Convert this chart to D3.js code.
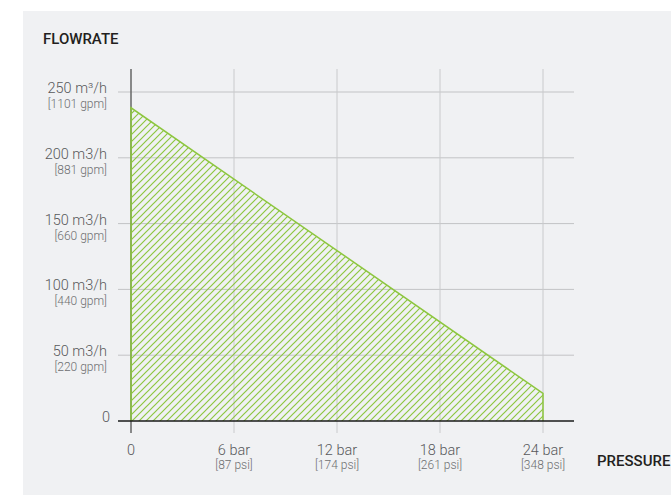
<!DOCTYPE html>
<html lang="en">
<head>
<meta charset="UTF-8">
<title>Flowrate vs pressure</title>
<style>
html,body{margin:0; width:100vw; height:100vh; overflow:hidden; background:#fff; font-family:Roboto, Arial, sans-serif;}
svg{width:100%; height:100%; display:block;}
</style>
</head>
<body>
<svg></svg>
<script src="https://d3js.org/d3.v7.min.js"></script>
<script>
// chart values
const pressureTicks = [0, 6, 12, 18, 24];
const pressureLabels = ["0", "6 bar", "12 bar", "18 bar", "24 bar"];
const psiLabels = ["", "[87 psi]", "[174 psi]", "[261 psi]", "[348 psi]"];
const flowTicks = [0, 50, 100, 150, 200, 250];
const flowLabels = ["0", "50 m3/h", "100 m3/h", "150 m3/h", "200 m3/h", "250 m³/h"];
const gpmLabels = ["", "[220 gpm]", "[440 gpm]", "[660 gpm]", "[881 gpm]", "[1101 gpm]"];
const curvePressure = [0, 24];
const curveFlow = [238, 21];

const svg = d3.select("svg");
const GREEN = "#8dc63f";

svg.append("rect").attr("x",23).attr("y",11).attr("width",660).attr("height",484).attr("fill","#f0f1f3");

const x = d3.scaleLinear().domain([0,24]).range([131,543]);
const y = d3.scaleLinear().domain([0,250]).range([421,92]);

const defs = svg.append("defs");
defs.append("pattern").attr("id","hatch").attr("patternUnits","userSpaceOnUse")
  .attr("width",7).attr("height",7)
  .append("path").attr("d","M-1,1 l2,-2 M0,7 l7,-7 M6,8 l2,-2")
  .attr("stroke",GREEN).attr("stroke-width",1.2);

// grid
svg.append("g").selectAll("line").data(flowTicks.filter(d=>d>0)).join("line")
  .attr("x1",118).attr("x2",574).attr("y1",d=>y(d)).attr("y2",d=>y(d))
  .attr("stroke","#c2c3c5").attr("stroke-width",1);
svg.append("g").selectAll("line").data(pressureTicks.filter(d=>d>0)).join("line")
  .attr("x1",d=>x(d)).attr("x2",d=>x(d)).attr("y1",69).attr("y2",433)
  .attr("stroke","#c9cacc").attr("stroke-width",1);

// y axis line
svg.append("line").attr("x1",x(0)).attr("x2",x(0)).attr("y1",69).attr("y2",433)
  .attr("stroke","#666").attr("stroke-width",1.5);

// hatched area
const pts = curvePressure.map((p,i)=>[p,curveFlow[i]]);
const area = d3.area().x(d=>x(d[0])).y0(y(0)).y1(d=>y(d[1]));
svg.append("path").datum(pts).attr("d",area).attr("fill","url(#hatch)");
const outline = [[curvePressure[0],0], ...pts, [curvePressure[curvePressure.length-1],0]];
svg.append("path").datum(outline)
  .attr("d",d3.line().x(d=>x(d[0])).y(d=>y(d[1])))
  .attr("fill","none").attr("stroke",GREEN).attr("stroke-width",1.5);

// x axis line
svg.append("line").attr("x1",118).attr("x2",574).attr("y1",y(0)).attr("y2",y(0))
  .attr("stroke","#1a1a1a").attr("stroke-width",1.5);

// y labels
const yl = svg.append("g").selectAll("g").data(flowTicks).join("g");
yl.append("text").attr("x",(d,i)=>i===0?110:107).attr("y",d=>y(d)+1)
  .attr("text-anchor","end").attr("fill","#58595b").style("font-size","14.5px").style("font-weight",300)
  .text((d,i)=>flowLabels[i]);
yl.append("text").attr("x",107).attr("y",d=>y(d)+16)
  .attr("text-anchor","end").attr("fill","#6d6e70").style("font-size","12px").style("font-weight",300)
  .text((d,i)=>gpmLabels[i]);

// x labels
const xl = svg.append("g").selectAll("g").data(pressureTicks).join("g");
xl.append("text").attr("x",d=>x(d)).attr("y",455)
  .attr("text-anchor","middle").attr("fill","#58595b").style("font-size","14.5px").style("font-weight",300)
  .text((d,i)=>pressureLabels[i]);
xl.append("text").attr("x",d=>x(d)).attr("y",469)
  .attr("text-anchor","middle").attr("fill","#6d6e70").style("font-size","12px").style("font-weight",300)
  .text((d,i)=>psiLabels[i]);

// axis titles
svg.append("text").attr("x",43).attr("y",44).attr("fill","#231f20")
  .style("font-size","15px").style("font-weight",500).text("FLOWRATE");
svg.append("text").attr("x",597).attr("y",466).attr("fill","#231f20")
  .style("font-size","15px").style("font-weight",500).text("PRESSURE");
</script>
</body>
</html>
